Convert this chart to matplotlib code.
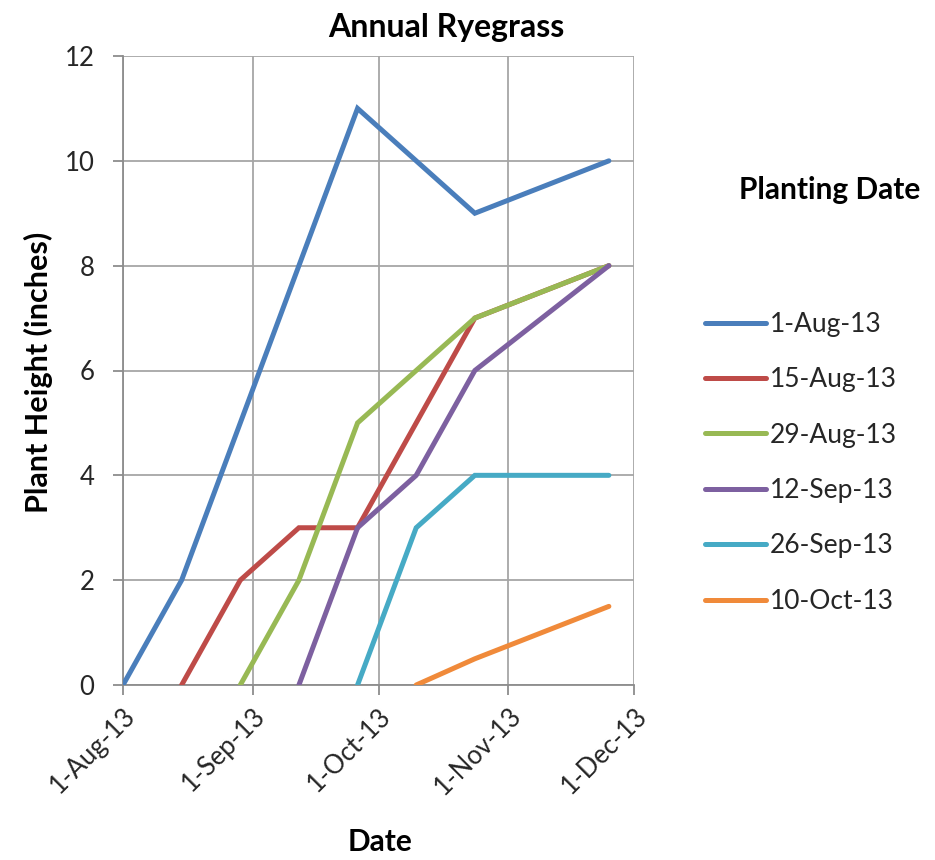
import matplotlib
matplotlib.use("Agg")
import matplotlib.pyplot as plt
from datetime import date

plt.rcParams['font.family'] = ['Lato', 'DejaVu Sans']

# Measurement dates (every two weeks, plus a late-November reading)
dates = [date(2013, 8, 1), date(2013, 8, 15), date(2013, 8, 29), date(2013, 9, 12),
         date(2013, 9, 26), date(2013, 10, 10), date(2013, 10, 24), date(2013, 11, 25)]

planting_labels = ["1-Aug-13", "15-Aug-13", "29-Aug-13", "12-Sep-13", "26-Sep-13", "10-Oct-13"]

# Plant height (inches) for each planting date, starting at its sowing date
h_aug01 = [0, 2, 5, 8, 11, 10, 9, 10]
h_aug15 = [0, 2, 3, 3, 5, 7, 8]
h_aug29 = [0, 2, 5, 6, 7, 8]
h_sep12 = [0, 3, 4, 6, 8]
h_sep26 = [0, 3, 4, 4]
h_oct10 = [0, 0.5, 1.5]

series = [h_aug01, h_aug15, h_aug29, h_sep12, h_sep26, h_oct10]
colors = ["#4A7EBB", "#BE4B48", "#98B954", "#7D60A0", "#46AAC5", "#F08A3A"]

x_ticks = [date(2013, 8, 1), date(2013, 9, 1), date(2013, 10, 1), date(2013, 11, 1), date(2013, 12, 1)]
x_tick_labels = ["1-Aug-13", "1-Sep-13", "1-Oct-13", "1-Nov-13", "1-Dec-13"]
y_ticks = [0, 2, 4, 6, 8, 10, 12]

fig = plt.figure(figsize=(9.35, 8.6), dpi=100)
ax = fig.add_axes([123 / 935, 1 - 685 / 860, (634 - 123) / 935, (685 - 56) / 860])

for vals, col, lab in zip(series, colors, planting_labels):
    xs = dates[len(dates) - len(vals):]
    ax.plot(xs, vals, color=col, lw=3.6, label=lab, solid_capstyle='round',
            solid_joinstyle='miter', zorder=3)

ax.set_xlim(date(2013, 8, 1), date(2013, 12, 1))
ax.set_ylim(0, 12)
ax.set_xticks(x_ticks)
ax.set_xticklabels(x_tick_labels, rotation=45, ha='right', rotation_mode='anchor')
ax.set_yticks(y_ticks)
ax.set_yticklabels([str(v) for v in y_ticks])

ax.grid(True, color="#A6A6A6", lw=1.3, zorder=0)
for side in ("top", "right"):
    ax.spines[side].set_visible(False)
for side in ("left", "bottom"):
    ax.spines[side].set_color("#8C8C8C")
    ax.spines[side].set_linewidth(1.3)
ax.tick_params(axis='both', colors="#8C8C8C", length=7.2, width=1.3, labelsize=18.5,
               labelcolor="#262626")
ax.tick_params(axis='y', pad=13.5)
ax.tick_params(axis='x', pad=6)

fig.text(446 / 935, 1 - 27 / 860, "Annual Ryegrass", fontsize=23, fontweight='bold',
         ha='center', va='center')
fig.text(380 / 935, 1 - 842 / 860, "Date", fontsize=21.5, fontweight='bold',
         ha='center', va='center')
fig.text(38 / 935, 1 - 372 / 860, "Plant Height (inches)", fontsize=22, fontweight='bold',
         ha='center', va='center', rotation=90)

fig.text(830 / 935, 1 - 190 / 860, "Planting Date", fontsize=21.5, fontweight='bold',
         ha='center', va='center')
leg = ax.legend(loc='upper left', bbox_to_anchor=(705 / 935, 1 - 312 / 860),
                bbox_transform=fig.transFigure, frameon=False, fontsize=19,
                handlelength=2.3, handletextpad=0.15, labelspacing=1.15,
                borderpad=0, borderaxespad=0)
for t in leg.get_texts():
    t.set_color("#262626")

fig.savefig("out.png", dpi=100)
